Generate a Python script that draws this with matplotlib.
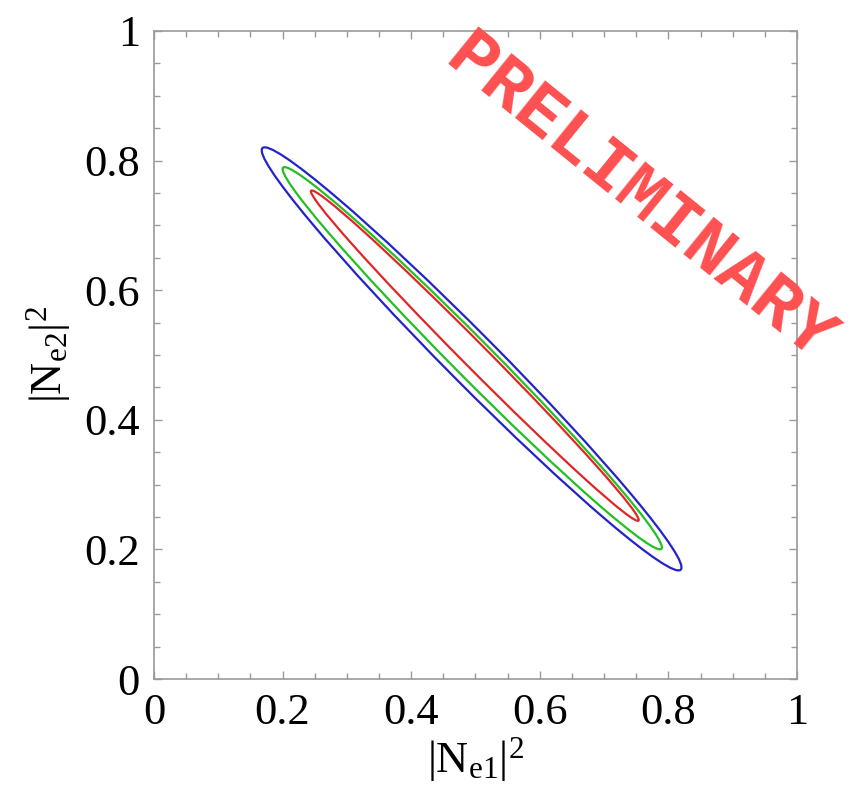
import matplotlib
matplotlib.use("Agg")
import matplotlib.pyplot as plt
from matplotlib.patches import Ellipse
from matplotlib.ticker import MultipleLocator

# contour ellipses (centre, semi-axes in data units)
colors = ["#2323c8", "#22c022", "#e02626"]
centers_x = [0.494, 0.495, 0.499]
centers_y = [0.494, 0.495, 0.499]
semi_major = [0.460, 0.416, 0.360]
semi_minor = [0.039, 0.030, 0.019]
tilt = -45

tick_vals = [0, 0.2, 0.4, 0.6, 0.8, 1]
tick_text = ["0", "0.2", "0.4", "0.6", "0.8", "1"]

plt.rcParams["font.family"] = "Liberation Serif"
plt.rcParams["mathtext.fontset"] = "custom"
plt.rcParams["mathtext.rm"] = "Liberation Serif"
plt.rcParams["mathtext.it"] = "Liberation Serif:italic"

fig = plt.figure(figsize=(8.53, 7.90), dpi=100)
ax = fig.add_axes([0.1805, 0.1405, 0.7538, 0.8203])

for c, cx, cy, a, b in zip(colors, centers_x, centers_y, semi_major, semi_minor):
    ax.add_patch(Ellipse((cx, cy), 2 * a, 2 * b, angle=tilt,
                         fill=False, edgecolor=c, linewidth=1.6))

ax.set_xlim(0, 1)
ax.set_ylim(0, 1)
ax.set_xticks(tick_vals)
ax.set_xticklabels(tick_text)
ax.set_yticks(tick_vals)
ax.set_yticklabels(tick_text)
ax.xaxis.set_minor_locator(MultipleLocator(0.05))
ax.yaxis.set_minor_locator(MultipleLocator(0.05))

for s in ax.spines.values():
    s.set_color("#9a9a9a")
    s.set_linewidth(1.2)
ax.tick_params(which="both", direction="in", top=True, right=True,
               color="#9a9a9a", width=1)
ax.tick_params(which="major", length=6, labelsize=32, pad=10)
ax.tick_params(which="minor", length=4)

ax.set_xlabel(r"$\mathrm{|N_{e1}|^2}$", fontsize=32, labelpad=2)
ax.set_ylabel(r"$\mathrm{|N_{e2}|^2}$", fontsize=32, labelpad=8)

# watermark
ax.text(0.755, 0.742, "PRELIMINARY", transform=ax.transAxes,
        rotation=-39, rotation_mode="anchor", ha="center", va="center",
        fontsize=52, fontweight="bold", family="Liberation Mono",
        color="#ff5050", clip_on=False)

plt.savefig("out.png", dpi=100)
